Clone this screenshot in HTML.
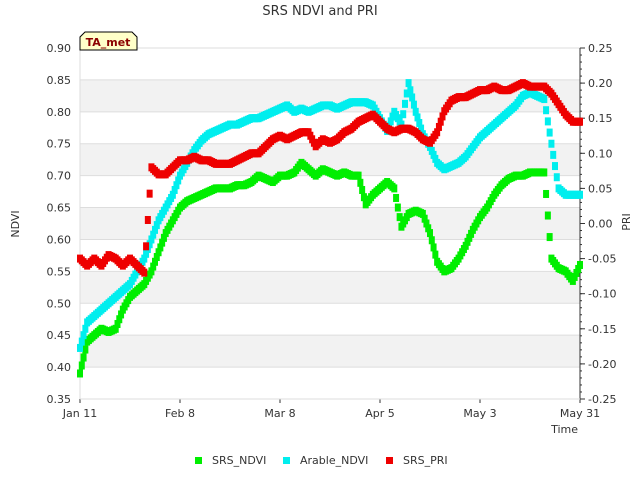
<!DOCTYPE html>
<html><head><meta charset="utf-8"><style>
body{margin:0;background:#fff;font-family:"Liberation Sans","DejaVu Sans",sans-serif}
svg text{font-family:"DejaVu Sans","Liberation Sans",sans-serif}
</style></head><body>
<svg id="chart" width="640" height="480" viewBox="0 0 640 480" xmlns="http://www.w3.org/2000/svg">
<rect width="640" height="480" fill="#fff"/>
<text x="320" y="15" text-anchor="middle" font-size="13" fill="#333">SRS NDVI and PRI</text>
<g id="grid"></g>
<g id="axes"></g>
<g id="marks"></g>
<g>
<path d="M80,50 L80,37 L85,32 L132,32 L137,37 L137,50 Z" fill="#ffffc8" stroke="#000" stroke-width="1"/>
<text x="108" y="46" text-anchor="middle" font-size="11" font-weight="bold" fill="#8b0000">TA_met</text>
</g>
<text transform="translate(19,224) rotate(-90)" text-anchor="middle" font-size="11" fill="#333">NDVI</text>
<text transform="translate(630,222) rotate(-90)" text-anchor="middle" font-size="11" fill="#333">PRI</text>
<text x="578" y="433" text-anchor="end" font-size="11" fill="#333">Time</text>
<g>
<g><rect x="195" y="457" width="7" height="7" fill="#00ee00"/><text x="212" y="464" font-size="11" fill="#333">SRS_NDVI</text></g>
<g><rect x="283" y="457" width="7" height="7" fill="#00eeee"/><text x="300" y="464" font-size="11" fill="#333">Arable_NDVI</text></g>
<g><rect x="386" y="457" width="7" height="7" fill="#ee0000"/><text x="403" y="464" font-size="11" fill="#333">SRS_PRI</text></g>
</g>
</svg>
<script>
const days=[0,2,4,6,8,10,12,14,16,18,20,22,24,26,28,30,32,34,36,38,40,42,44,46,48,50,52,54,56,58,60,62,64,66,68,70,72,74,76,78,80,82,84,86,88,90,92,94,96,98,100,102,104,106,108,110,112,114,116,118,120,122,124,126,128,130,132,134,136,138,140];
const srsNdvi=[0.39,0.44,0.45,0.46,0.455,0.46,0.49,0.51,0.52,0.53,0.55,0.58,0.61,0.63,0.65,0.66,0.665,0.67,0.675,0.68,0.68,0.68,0.685,0.685,0.69,0.70,0.695,0.69,0.70,0.70,0.705,0.72,0.71,0.70,0.71,0.705,0.70,0.705,0.70,0.70,0.655,0.67,0.68,0.69,0.68,0.62,0.64,0.645,0.64,0.61,0.565,0.55,0.555,0.57,0.59,0.615,0.635,0.65,0.67,0.685,0.695,0.70,0.70,0.705,0.705,0.705,0.57,0.555,0.55,0.535,0.56];
const arableNdvi=[0.43,0.47,0.48,0.49,0.50,0.51,0.52,0.53,0.55,0.57,0.60,0.63,0.65,0.67,0.70,0.72,0.74,0.755,0.765,0.77,0.775,0.78,0.78,0.785,0.79,0.79,0.795,0.80,0.805,0.81,0.80,0.805,0.80,0.805,0.81,0.81,0.805,0.81,0.815,0.815,0.815,0.81,0.79,0.77,0.80,0.78,0.845,0.80,0.765,0.745,0.72,0.71,0.715,0.72,0.73,0.745,0.76,0.77,0.78,0.79,0.80,0.81,0.825,0.83,0.825,0.82,0.75,0.68,0.67,0.67,0.67];
const srsPri=[-0.05,-0.06,-0.05,-0.06,-0.045,-0.05,-0.06,-0.05,-0.06,-0.07,0.08,0.07,0.07,0.08,0.09,0.09,0.095,0.09,0.09,0.085,0.085,0.085,0.09,0.095,0.10,0.10,0.11,0.12,0.125,0.12,0.125,0.13,0.13,0.11,0.12,0.115,0.12,0.13,0.135,0.145,0.15,0.155,0.145,0.135,0.13,0.135,0.135,0.13,0.12,0.115,0.13,0.16,0.175,0.18,0.18,0.185,0.19,0.19,0.195,0.19,0.19,0.195,0.20,0.195,0.195,0.195,0.185,0.17,0.155,0.145,0.145];
const ndviTicks=[0.35,0.40,0.45,0.50,0.55,0.60,0.65,0.70,0.75,0.80,0.85,0.90];
const priTicks=[-0.25,-0.20,-0.15,-0.10,-0.05,0.00,0.05,0.10,0.15,0.20,0.25];
const dateTicks=["Jan 11","Feb 8","Mar 8","Apr 5","May 3","May 31"];
const dateTickDays=[0,28,56,84,112,140];

const X0=80,X1=580,Y0=399,Y1=48;
function xs(d){return X0+(d/140)*(X1-X0);}
function yl(v){return Y0-(v-0.35)/0.55*(Y0-Y1);}
function yr(v){return Y0-(v+0.25)/0.5*(Y0-Y1);}
const NS="http://www.w3.org/2000/svg";
function el(t,a,p){const e=document.createElementNS(NS,t);for(const k in a)e.setAttribute(k,a[k]);p.appendChild(e);return e;}
const grid=document.getElementById('grid'),axes=document.getElementById('axes'),marks=document.getElementById('marks');
el('rect',{x:X0,y:Y1,width:X1-X0,height:Y0-Y1,fill:'#fff'},grid);
for(let i=0;i<ndviTicks.length-1;i++){
  if(i%2===1){const r=el('rect',{x:X0,y:yl(ndviTicks[i+1]),width:X1-X0,height:yl(ndviTicks[i])-yl(ndviTicks[i+1]),fill:'#f2f2f2'},grid);
  
  }
}
ndviTicks.forEach(v=>{
  const l=el('line',{x1:X0,x2:X1,y1:yl(v),y2:yl(v),stroke:'#ddd','stroke-width':1},grid);
  
  
  const t=el('text',{x:X0-9,y:yl(v)+4,'text-anchor':'end','font-size':11,fill:'#333'},axes);
  t.textContent=v.toFixed(2);
  
  
});
priTicks.forEach(v=>{
  const t=el('text',{x:X1+8,y:yr(v)+4,'font-size':11,fill:'#333'},axes);
  t.textContent=v.toFixed(2);
  
  
  el('line',{x1:X1,x2:X1+5,y1:yr(v),y2:yr(v),stroke:'#333'},axes);
});
for(let v=-0.25;v<=0.2501;v+=0.01){el('line',{x1:X1,x2:X1+2,y1:yr(v),y2:yr(v),stroke:'#333'},axes);}
dateTicks.forEach((s,i)=>{
  const x=xs(dateTickDays[i]);
  el('line',{x1:x,x2:x,y1:Y0,y2:Y0+4,stroke:'#333'},axes);
  const t=el('text',{x:x,y:Y0+18,'text-anchor':'middle','font-size':11,fill:'#333'},axes);
  t.textContent=s;
  
  
});
el('line',{x1:X0,x2:X0,y1:Y1,y2:Y0,stroke:'#ddd'},axes);
el('line',{x1:X1,x2:X1,y1:Y1,y2:Y0,stroke:'#333'},axes);
el('line',{x1:X0,x2:X1,y1:Y0,y2:Y0,stroke:'#ddd'},axes);
function draw(vals,fy,color,name){
  for(let i=0;i<days.length;i++){
    const x=xs(days[i]),y=fy(vals[i]);
    const r=el('rect',{x:x-3,y:y-4,width:6,height:8,fill:color},marks);
    
    
    if(i<days.length-1){
      for(let k=1;k<4;k++){
        const f=k/4;
        const x2=xs(days[i]+(days[i+1]-days[i])*f),y2=fy(vals[i]+(vals[i+1]-vals[i])*f);
        const r2=el('rect',{x:x2-3,y:y2-4,width:6,height:8,fill:color},marks);
        
        
      }
    }
  }
}
draw(srsNdvi,yl,'#00ee00','srs-ndvi-point');
draw(arableNdvi,yl,'#00eeee','arable-ndvi-point');
draw(srsPri,yr,'#ee0000','srs-pri-point');
</script>
</body></html>
